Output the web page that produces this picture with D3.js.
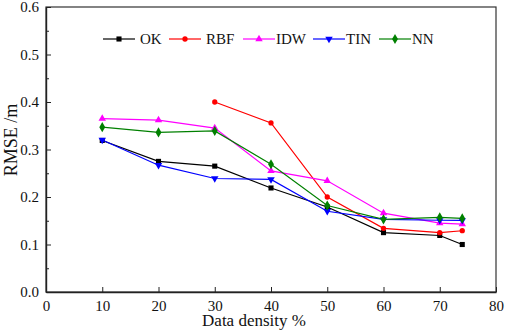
<!DOCTYPE html>
<html>
<head>
<meta charset="utf-8">
<script src="https://cdn.jsdelivr.net/npm/d3@7"></script>
<style>
  body { margin: 0; background: #fff; }
</style>
</head>
<body>
<div class="chart"></div>
<script>
// Data
const density = [10, 20, 30, 40, 50, 60, 70, 74];
const okValues  = [0.319, 0.275, 0.265, 0.219, 0.179, 0.125, 0.119, 0.100];
const rbfValues = [null, null, 0.400, 0.356, 0.200, 0.134, 0.125, 0.129];
const idwValues = [0.365, 0.362, 0.345, 0.255, 0.234, 0.166, 0.145, 0.143];
const tinValues = [0.320, 0.267, 0.239, 0.237, 0.170, 0.153, 0.151, 0.151];
const nnValues  = [0.347, 0.336, 0.339, 0.269, 0.182, 0.153, 0.157, 0.155];
const xTicks = [0, 10, 20, 30, 40, 50, 60, 70, 80];
const yTicks = [0.0, 0.1, 0.2, 0.3, 0.4, 0.5, 0.6];

const series = [
  { name: "OK",  values: okValues,  color: "#000000", symbol: d3.symbolSquare,   size: 26 },
  { name: "RBF", values: rbfValues, color: "#ff0000", symbol: d3.symbolCircle,   size: 22 },
  { name: "IDW", values: idwValues, color: "#ff00ff", symbol: d3.symbolTriangle, size: 24 },
  { name: "TIN", values: tinValues, color: "#0000ff", symbol: d3.symbolTriangle, size: 24, flip: true },
  { name: "NN",  values: nnValues,  color: "#008000", symbol: d3.symbolDiamond,  size: 30 }
];

const width = 505, height = 332;
const margin = { top: 7, right: 9, bottom: 40, left: 46 };
const innerWidth = width - margin.left - margin.right;
const innerHeight = height - margin.top - margin.bottom;
const serif = "Liberation Serif";

const svg = d3.select(".chart").append("svg")
  .attr("width", width)
  .attr("height", height);

const chart = svg.append("g")
  .attr("transform", `translate(${margin.left},${margin.top})`);

const x = d3.scaleLinear().domain([0, 80]).range([0, innerWidth]);
const y = d3.scaleLinear().domain([0, 0.6]).range([innerHeight, 0]);

// frame
chart.append("rect")
  .attr("width", innerWidth).attr("height", innerHeight)
  .attr("fill", "none").attr("stroke", "#333").attr("stroke-width", 1.2);

// x axis
const xAxis = chart.append("g")
  .attr("transform", `translate(0,${innerHeight})`)
  .call(d3.axisBottom(x).tickValues(xTicks).tickSizeInner(-5).tickSizeOuter(0).tickPadding(8));

// y axis minor ticks
chart.append("g")
  .call(d3.axisLeft(y).tickValues(d3.range(0.05, 0.6, 0.1)).tickSize(-3).tickFormat(""))
  .call(g => g.select(".domain").remove());

const yAxis = chart.append("g")
  .call(d3.axisLeft(y).tickValues(yTicks).tickSizeInner(-5).tickSizeOuter(0).tickPadding(7).tickFormat(d3.format(".1f")));

[xAxis, yAxis].forEach(g => {
  g.attr("font-family", serif);
  g.select(".domain").attr("stroke", "#222").attr("stroke-width", 1.4);
  g.selectAll(".tick text").attr("font-size", 15).attr("fill", "#111").attr("font-family", serif);
});
chart.selectAll(".tick line").attr("stroke", "#222");

// lines
const line = d3.line()
  .defined(d => d[1] != null)
  .x(d => x(d[0]))
  .y(d => y(d[1]));

series.forEach(s => {
  const pts = density.map((d, i) => [d, s.values[i]]);
  chart.append("path")
    .datum(pts)
    .attr("d", line)
    .attr("fill", "none")
    .attr("stroke", s.color)
    .attr("stroke-width", 1.2);

  chart.selectAll(null)
    .data(pts.filter(p => p[1] != null))
    .enter().append("path")
    .attr("d", d3.symbol().type(s.symbol).size(s.size))
    .attr("transform", p => `translate(${x(p[0])},${y(p[1])})${s.flip ? " rotate(180)" : ""}`)
    .attr("fill", s.color);
});

// legend
const legendX = [57, 123, 197, 267, 333];
const legend = chart.append("g").attr("transform", `translate(0,32)`);
series.forEach((s, i) => {
  const g = legend.append("g").attr("transform", `translate(${legendX[i]},0)`);
  g.append("line").attr("x1", 0).attr("x2", 32).attr("stroke", s.color).attr("stroke-width", 1.2);
  g.append("path")
    .attr("d", d3.symbol().type(s.symbol).size(s.size))
    .attr("transform", `translate(16,0)${s.flip ? " rotate(180)" : ""}`)
    .attr("fill", s.color);
  g.append("text").attr("x", i < 2 ? 37 : 33).attr("y", 5)
    .attr("font-family", serif)
    .attr("font-size", 15).attr("fill", "#111").text(s.name);
});

// axis titles
svg.append("text")
  .attr("x", 254)
  .attr("y", 326)
  .attr("text-anchor", "middle")
  .attr("font-family", serif)
  .attr("font-size", 17)
  .attr("fill", "#111")
  .text("Data density %");

svg.append("text")
  .attr("transform", "translate(17,140) rotate(-90)")
  .attr("text-anchor", "middle")
  .attr("font-family", serif)
  .attr("font-size", 18)
  .attr("fill", "#111")
  .text("RMSE /m");
</script>
</body>
</html>
